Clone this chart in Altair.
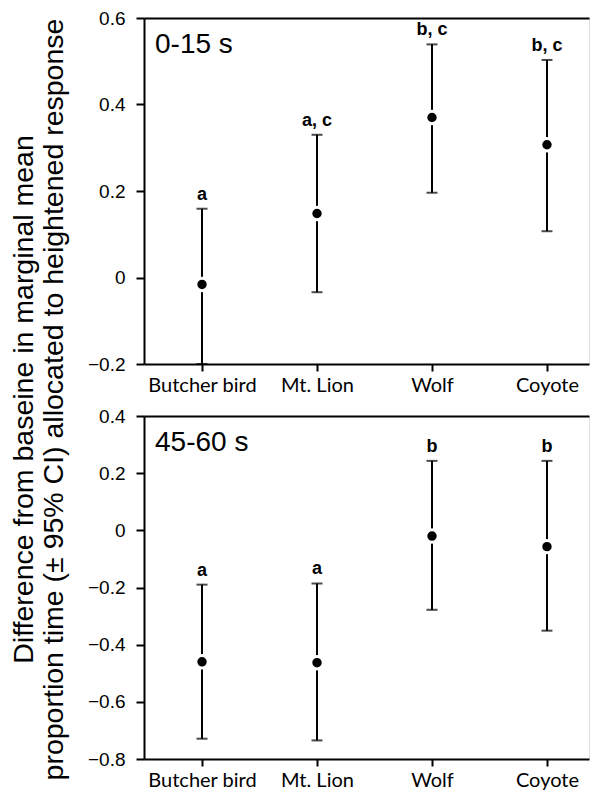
import altair as alt
import pandas as pd

categories = ["Butcher bird", "Mt. Lion", "Wolf", "Coyote"]

early_mean = [-0.016, 0.148, 0.370, 0.307]
early_lower = [-0.200, -0.034, 0.196, 0.107]
early_upper = [0.159, 0.330, 0.539, 0.503]
early_letters = ["a", "a, c", "b, c", "b, c"]

late_mean = [-0.460, -0.463, -0.020, -0.057]
late_lower = [-0.729, -0.735, -0.278, -0.351]
late_upper = [-0.190, -0.186, 0.243, 0.243]
late_letters = ["a", "a", "b", "b"]

panel_labels = ["0-15 s", "45-60 s"]
early_ticks = [-0.2, 0.0, 0.2, 0.4, 0.6]
late_ticks = [-0.8, -0.6, -0.4, -0.2, 0.0, 0.2, 0.4]

title_lines = ["Difference from baseine in marginal mean",
               "proportion time (\u00b1 95% CI) allocated to heightened response"]


def panel(mean, lower, upper, letters, ticks, label, height):
    df = pd.DataFrame({"cat": categories, "mean": mean, "lower": lower,
                       "upper": upper, "letter": letters})
    xscale = alt.Scale(type="point", padding=0.435, align=0.58)
    x_bottom = alt.X("cat:N", sort=categories, title=None, scale=xscale,
                     axis=alt.Axis(orient="bottom", labelAngle=0,
                                   labelFont="Lato", labelFontSize=20,
                                   labelColor="black",
                                   labelBaseline="alphabetic",
                                   labelPadding=20, tickSize=7, tickWidth=2,
                                   tickColor="black", domainColor="black",
                                   domainWidth=2))
    x_top = alt.X("cat:N", sort=categories, title=None, scale=xscale,
                  axis=alt.Axis(orient="top", labels=False, ticks=False,
                                domainColor="black", domainWidth=2))
    x = alt.X("cat:N", sort=categories, title=None, scale=xscale, axis=None)
    yscale = alt.Scale(domain=[min(ticks), max(ticks)], nice=False, zero=False)
    yaxis = alt.Axis(values=ticks, format=".1~f", grid=False,
                     labelFont="Liberation Sans", labelFontSize=19,
                     labelColor="black", labelPadding=11, tickSize=8,
                     tickWidth=2, tickColor="black", domainColor="black",
                     domainWidth=2, title=None)
    base = alt.Chart(df)
    rule = base.mark_rule(color="black", strokeWidth=2).encode(
        x=x_bottom, y=alt.Y("lower:Q", scale=yscale, axis=yaxis), y2="upper:Q")
    cap_lo = base.mark_tick(color="black", size=11, thickness=2).encode(
        x=x, y=alt.Y("lower:Q", scale=yscale))
    cap_hi = base.mark_tick(color="black", size=11, thickness=2).encode(
        x=x_top, y=alt.Y("upper:Q", scale=yscale))
    pts = base.mark_point(filled=True, shape="circle", size=154, opacity=1,
                          fill="black", stroke="white", strokeWidth=3).encode(
        x=x, y=alt.Y("mean:Q", scale=yscale))
    txt = base.mark_text(font="Liberation Sans", fontSize=18, fontWeight="bold",
                         baseline="alphabetic", dy=-9, color="black").encode(
        x=x, y=alt.Y("upper:Q", scale=yscale), text="letter:N")
    lab = alt.Chart(pd.DataFrame({"t": [label]})).mark_text(
        font="Liberation Sans", fontSize=28, align="left",
        baseline="alphabetic", color="black").encode(
        x=alt.value(11), y=alt.value(35), text="t:N")
    return alt.layer(rule, cap_lo, cap_hi, pts, txt, lab).resolve_axis(
        x="independent").properties(width=445, height=height)


top = panel(early_mean, early_lower, early_upper, early_letters,
            early_ticks, panel_labels[0], 346)
bottom = panel(late_mean, late_lower, late_upper, late_letters,
               late_ticks, panel_labels[1], 343)

chart = alt.vconcat(top, bottom, spacing=52, bounds="flush").properties(
    title=alt.TitleParams(text=title_lines, orient="left", anchor="middle",
                          font="Liberation Sans", fontSize=28.5,
                          fontWeight="normal", lineHeight=30, offset=18,
                          color="black"),
    padding={"left": 2, "top": 0, "right": 0, "bottom": 0},
).configure_view(strokeWidth=0).configure(background="white")

chart.save("out.html", embed_options={"renderer": "svg", "actions": False})
